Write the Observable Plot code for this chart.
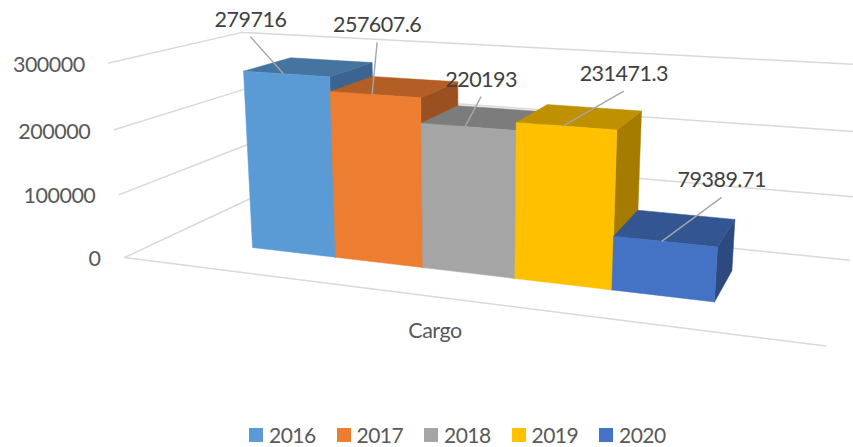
<!DOCTYPE html>
<html>
<head>
<meta charset="utf-8">
<script src="https://cdn.jsdelivr.net/npm/d3@7"></script>
<script src="https://cdn.jsdelivr.net/npm/@observablehq/plot@0.6"></script>
<style>
html,body{margin:0;padding:0;background:#fff;overflow:hidden}
svg text{letter-spacing:-0.5px}
#legend{position:relative;height:22px;font:21px Lato,sans-serif;color:#595959;letter-spacing:-0.5px}
.item{position:absolute;top:3px;display:flex;align-items:center;line-height:14px}
.sw{display:inline-block;width:14px;height:14px;margin-right:6px}
</style>
</head>
<body>
<div id="chart"></div>
<div id="legend"></div>
<script>
// ---- data ----
const years = ["2016", "2017", "2018", "2019", "2020"];
const cargo = [279716, 257607.6, 220193, 231471.3, 79389.71];
const ticks = [0, 100000, 200000, 300000];
const category = "Cargo";
const frontColors = ["#5B9BD5", "#ED7D31", "#A5A5A5", "#FFC000", "#4472C4"];
const topColors   = ["#44749F", "#B25E25", "#7C7C7C", "#BF9000", "#335693"];
const sideColors  = ["#3B6590", "#9A511F", "#6B6B6B", "#A67C00", "#2C4A7F"];

// ---- perspective of the 3D plot box: (slot, depth, value) -> picture units ----
function project(u, d, value) {
  const t = value / 100000;
  const w = 1 - 0.0248 * u + 0.068 * d - 0.0138 * t;
  return {
    x: (252 + 74.69 * u + 65 * d - 6.57 * t) / w,
    y: (247 + 3.42 * u - 9 * d - 64 * t) / w
  };
}
const U0 = -1.08, U1 = 6.1, D0 = -0.78, D1 = 1.78;

const fontSize = 21.5;
const W = 853, H = 425;
const marks = [];

// walls and floor gridlines
for (const v of ticks) {
  const pts = [project(U0, D0, v), project(U0, D1, v), project(U1, D1, v)];
  if (v === 0) pts.unshift(project(U1, D0, v));
  marks.push(Plot.line(pts, {x: "x", y: "y", stroke: "#D9D9D9", strokeWidth: 1.5}));
}

// bars, left to right so that each one overlaps its neighbour correctly
function face(points, color) {
  const closed = [...points, points[0]];
  return Plot.line(closed, {x: "x", y: "y", fill: color, stroke: color, strokeWidth: 0.5});
}
cargo.forEach((v, i) => {
  const a = i, b = i + 1;
  marks.push(face([project(b, 0, 0), project(b, 1, 0), project(b, 1, v), project(b, 0, v)], sideColors[i]));
  marks.push(face([project(a, 0, v), project(b, 0, v), project(b, 1, v), project(a, 1, v)], topColors[i]));
  marks.push(face([project(a, 0, 0), project(b, 0, 0), project(b, 0, v), project(a, 0, v)], frontColors[i]));
});

// data labels with leader lines: label placement relative to the bar's top edge
const labelOffsets = [[-33, -37], [5, -52], [16, -30], [61, -35], [60, -44]];
const labels = cargo.map((v, i) => {
  const p = project(i + 0.47, 0, v);
  const ox = labelOffsets[i][0], oy = labelOffsets[i][1];
  return {x0: p.x, y0: p.y, x1: p.x + ox, y1: p.y + oy, text: String(v)};
});
marks.push(Plot.link(labels, {x1: "x0", y1: "y0", x2: "x1", y2: "y1", stroke: "#A6A6A6", strokeWidth: 1.4}));
marks.push(Plot.text(labels, {
  x: "x1", y: "y1", text: "text", textAnchor: "middle", lineAnchor: "bottom",
  dy: -10, fill: "#404040", fontSize
}));

// value axis labels
marks.push(Plot.text(ticks, {
  x: v => project(U0, D0, v).x,
  y: v => project(U0, D0, v).y,
  text: v => String(v), textAnchor: "end", lineAnchor: "middle",
  dx: -24, dy: 2, fill: "#595959", fontSize
}));

// category label, under the floor's front edge
marks.push(Plot.text([category], {
  x: () => project(2.5, D0, 0).x - 4,
  y: () => project(2.5, D0, 0).y + 34,
  text: d => d, textAnchor: "middle", lineAnchor: "middle",
  fill: "#595959", fontSize
}));

const plot = Plot.plot({
  width: W, height: H, margin: 0,
  x: {domain: [0, W], range: [0, W], axis: null},
  y: {domain: [0, H], range: [0, H], axis: null},
  style: {fontFamily: "Lato, sans-serif", background: "#fff"},
  marks
});
document.getElementById("chart").appendChild(plot);

// legend
const legend = document.getElementById("legend");
years.forEach((y, i) => {
  const it = document.createElement("div");
  it.className = "item";
  it.style.left = (249 + 87.5 * i) + "px";
  it.innerHTML = '<span class="sw" style="background:' + frontColors[i] + '"></span>' + y;
  legend.appendChild(it);
});
</script>
</body>
</html>
